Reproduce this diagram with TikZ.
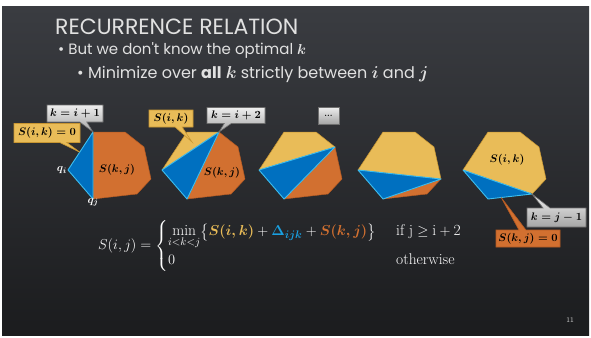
\documentclass[tikz,border=0pt]{standalone}
\usepackage{amsmath}
\usepackage{fontspec}
\newfontfamily\slidefont{Poppins}
\usetikzlibrary{calc,shapes.callouts}
\definecolor{RecBgTop}{RGB}{58,60,65}
\definecolor{RecBgBot}{RGB}{27,28,30}
\definecolor{RecText}{RGB}{225,225,225}
\definecolor{RecYellow}{RGB}{233,188,88}
\definecolor{RecYellowEdge}{RGB}{200,150,50}
\definecolor{RecOrange}{RGB}{210,112,48}
\definecolor{RecOrangeEdge}{RGB}{180,90,35}
\definecolor{RecBlue}{RGB}{0,112,192}
\definecolor{RecCyan}{RGB}{60,190,240}
\definecolor{RecDelta}{RGB}{25,160,225}
\definecolor{RecGrayTop}{RGB}{238,238,238}
\definecolor{RecGrayBot}{RGB}{165,165,165}
\definecolor{RecGrayEdge}{RGB}{110,110,110}
\tikzset{
  rec/yellow/.style={fill=RecYellow, draw=RecYellowEdge, line width=0.5pt, line join=round},
  rec/orange/.style={fill=RecOrange, draw=RecOrangeEdge, line width=0.5pt, line join=round},
  rec/blue/.style={fill=RecBlue, draw=RecCyan, line width=0.9pt, line join=round},
  rec/call/.style={
    rectangle callout,
    callout pointer width=7pt,
    inner sep=1pt,
    text=black,
    font=\fontsize{10.5}{12}\selectfont
  },
  rec/graycall/.style={rec/call, top color=RecGrayTop, bottom color=RecGrayBot, draw=RecGrayEdge, line width=0.6pt},
  rec/yellowcall/.style={rec/call, fill=RecYellow, draw=RecYellowEdge, line width=0.6pt},
  rec/orangecall/.style={rec/call, fill=RecOrange, draw=RecOrangeEdge, line width=0.6pt},
  rec/graybox/.style={top color=RecGrayTop, bottom color=RecGrayBot, draw=RecGrayEdge, line width=0.6pt,
    inner sep=1pt, font=\fontsize{8}{10}\selectfont},
  rec/inlabel/.style={text=black, font=\fontsize{10.5}{12}\selectfont},
  rec/vlabel/.style={text=white, font=\fontsize{11}{12}\selectfont, inner sep=1pt},
  rec/title/.style={text=RecText, anchor=base west, inner sep=0pt, font=\slidefont\fontsize{22}{26}\selectfont},
  rec/bullet/.style={text=RecText, anchor=base west, inner sep=0pt, font=\slidefont\fontsize{15}{18}\selectfont},
  rec/subbullet/.style={text=RecText, anchor=base west, inner sep=0pt, font=\slidefont\fontsize{16}{18}\selectfont},
  rec/formula/.style={text=white, inner sep=0pt, font=\fontsize{15.5}{18}\selectfont}
}

\begin{document}
\begin{tikzpicture}[x=1pt,y=-1pt]
  \useasboundingbox (0,0) rectangle (591,337);
  \fill[white] (0,0) rectangle (591,337);
  \shade[top color=RecBgTop, bottom color=RecBgBot] (2,7) rectangle (589,335);

  % title and bullets
  \node[rec/title] (title) at (55,35) {RECURRENCE RELATION};
  \node[rec/bullet] (b1) at (58,55) {\textbullet\ But we don't know the optimal $\boldsymbol{k}$};
  \node[rec/subbullet] (b2) at (77,78) {\textbullet\ Minimize over \textbf{all} $\boldsymbol{k}$ strictly between $\boldsymbol{i}$ and $\boldsymbol{j}$};

  % the same heptagon, five times
  \foreach \n/\dx in {1/68,2/162,3/259,4/358,5/463}{
    \begin{scope}[shift={(\dx,170)}]
      \coordinate (p\n-1) at (0,0);
      \coordinate (p\n-2) at (25,-38);
      \coordinate (p\n-3) at (57,-38);
      \coordinate (p\n-4) at (76,-23);
      \coordinate (p\n-5) at (83,9);
      \coordinate (p\n-6) at (69,24);
      \coordinate (p\n-7) at (25,29);
    \end{scope}
  }

  % k = i+1
  \fill[rec/orange] (p1-2) -- (p1-3) -- (p1-4) -- (p1-5) -- (p1-6) -- (p1-7) -- cycle;
  \fill[rec/blue] (p1-1) -- (p1-2) -- (p1-7) -- cycle;
  % k = i+2
  \fill[rec/yellow] (p2-1) -- (p2-2) -- (p2-3) -- cycle;
  \fill[rec/orange] (p2-3) -- (p2-4) -- (p2-5) -- (p2-6) -- (p2-7) -- cycle;
  \fill[rec/blue] (p2-1) -- (p2-3) -- (p2-7) -- cycle;
  % k = i+3
  \fill[rec/yellow] (p3-1) -- (p3-2) -- (p3-3) -- (p3-4) -- cycle;
  \fill[rec/orange] (p3-4) -- (p3-5) -- (p3-6) -- (p3-7) -- cycle;
  \fill[rec/blue] (p3-1) -- (p3-4) -- (p3-7) -- cycle;
  % k = i+4
  \fill[rec/yellow] (p4-1) -- (p4-2) -- (p4-3) -- (p4-4) -- (p4-5) -- cycle;
  \fill[rec/orange] (p4-5) -- (p4-6) -- (p4-7) -- cycle;
  \fill[rec/blue] (p4-1) -- (p4-5) -- (p4-7) -- cycle;
  % k = j-1
  \fill[rec/yellow] (p5-1) -- (p5-2) -- (p5-3) -- (p5-4) -- (p5-5) -- (p5-6) -- cycle;
  \fill[rec/blue] (p5-1) -- (p5-6) -- (p5-7) -- cycle;

  % labels inside and at the vertices
  \node[rec/vlabel, anchor=east] (qi) at (p1-1) {$\boldsymbol{q_i}$};
  \node[rec/vlabel, anchor=north] (qj) at ([yshift=2pt]p1-7) {$\boldsymbol{q_j}$};
  \node[rec/inlabel] (skj1) at (117,170) {$\boldsymbol{S(k,j)}$};
  \node[rec/inlabel] (skj2) at (222,173) {$\boldsymbol{S(k,j)}$};
  \node[rec/inlabel] (sik5) at (507,160) {$\boldsymbol{S(i,k)}$};

  % callouts
  \coordinate (tip1) at ($(p1-1)!0.47!(p1-2)$);
  \coordinate (tip2) at (192,142);
  \coordinate (tip5) at ($(p5-7)!0.3!(p5-6)$);
  \node[rec/graycall, minimum width=56pt, minimum height=17pt, callout absolute pointer={(p1-2)}] (ki1) at (75,113.5) {$\boldsymbol{k=i+1}$};
  \node[rec/yellowcall, minimum width=66pt, minimum height=19pt, callout absolute pointer={(tip1)}] (sik0) at (47,133) {$\boldsymbol{S(i,k)=0}$};
  \node[rec/yellowcall, minimum width=44pt, minimum height=17pt, callout absolute pointer={(tip2)}] (sik2) at (171,118.5) {$\boldsymbol{S(i,k)}$};
  \node[rec/graycall, minimum width=58pt, minimum height=16pt, callout absolute pointer={(p2-3)}] (ki2) at (236,115.5) {$\boldsymbol{k=i+2}$};
  \node[rec/graybox, minimum width=21pt, minimum height=17pt] (dots) at (328.5,115.5) {\textbf{...}};
  \node[rec/graycall, minimum width=59pt, minimum height=19pt, callout absolute pointer={(p5-6)}] (kj1) at (556.5,217.5) {$\boldsymbol{k=j-1}$};
  \node[rec/orangecall, minimum width=64pt, minimum height=17pt, callout absolute pointer={(tip5)}] (skj0) at (528,238.5) {$\boldsymbol{S(k,j)=0}$};

  % recurrence
  \node[rec/formula, anchor=west] (recur) at (98,246) {$\displaystyle S(i,j)=\begin{cases}
      \min\limits_{i<k<j}\bigl\{{\color{RecYellow}\boldsymbol{S(i,k)}}+{\color{RecDelta}\boldsymbol{\Delta_{ijk}}}+{\color{RecOrange}\boldsymbol{S(k,j)}}\bigr\} & \hspace{5pt}\mathrm{if\ j\geq i+2}\\
      0 & \hspace{5pt}\text{otherwise}
    \end{cases}$};

  \node[text=RecGrayTop!80!black, font=\sffamily\fontsize{7}{8}\selectfont] (pageno) at (570,320) {11};
\end{tikzpicture}
\end{document}
